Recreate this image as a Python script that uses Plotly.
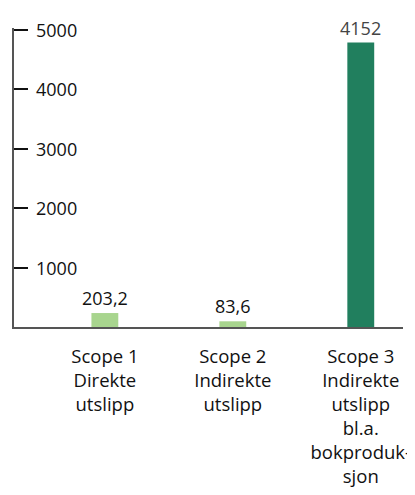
import plotly.graph_objects as go

categories = ["Scope 1<br>Direkte<br>utslipp",
              "Scope 2<br>Indirekte<br>utslipp",
              "Scope 3<br>Indirekte<br>utslipp<br>bl.a.<br>bokproduk-<br>sjon"]
# bar heights as drawn in the picture
bar_heights = [235, 96, 4790]
# printed value labels
value_labels = ["203,2", "83,6", "4152"]
bar_colors = ["#a8d58e", "#a8d58e", "#217f5e"]
label_colors = ["#111111", "#111111", "#444444"]
y_ticks = [1000, 2000, 3000, 4000, 5000]

FONT = "Open Sans"

fig = go.Figure()
fig.add_trace(go.Bar(
    x=list(range(len(categories))),
    y=bar_heights,
    width=0.21,
    marker=dict(color=bar_colors, line=dict(width=0)),
    hoverinfo="skip",
))

# value labels above bars
for i, (h, lab, col) in enumerate(zip(bar_heights, value_labels, label_colors)):
    fig.add_annotation(x=i, y=h, text=lab, showarrow=False,
                       xanchor="center", yanchor="middle", yshift=15,
                       font=dict(family=FONT, size=18, color=col))

# y tick labels to the right of the axis
for v in y_ticks:
    fig.add_annotation(xref="paper", x=0, y=v, text=str(v), showarrow=False,
                       xanchor="left", yanchor="middle", xshift=20,
                       font=dict(family=FONT, size=18, color="#111111"))

fig.update_layout(
    width=407, height=479,
    margin=dict(l=6, r=12, t=20, b=160),
    paper_bgcolor="white", plot_bgcolor="white",
    showlegend=False,
    font=dict(family=FONT, size=18, color="#111111"),
)
fig.update_xaxes(
    range=[-0.71, 2.33],
    tickvals=list(range(len(categories))),
    ticktext=categories,
    showline=True, linecolor="#555555", linewidth=2,
    ticks="", showgrid=False, zeroline=False,
    tickfont=dict(family=FONT, size=18.5, color="#111111"),
    ticklabelstandoff=12,
    automargin=False,
)
fig.update_yaxes(
    range=[0, 5035],
    tickvals=y_ticks,
    showticklabels=False,
    showline=True, linecolor="#555555", linewidth=2,
    ticks="inside", ticklen=14, tickwidth=2, tickcolor="#111111",
    showgrid=False, zeroline=False,
    automargin=False,
)

fig.write_html("out.html")
